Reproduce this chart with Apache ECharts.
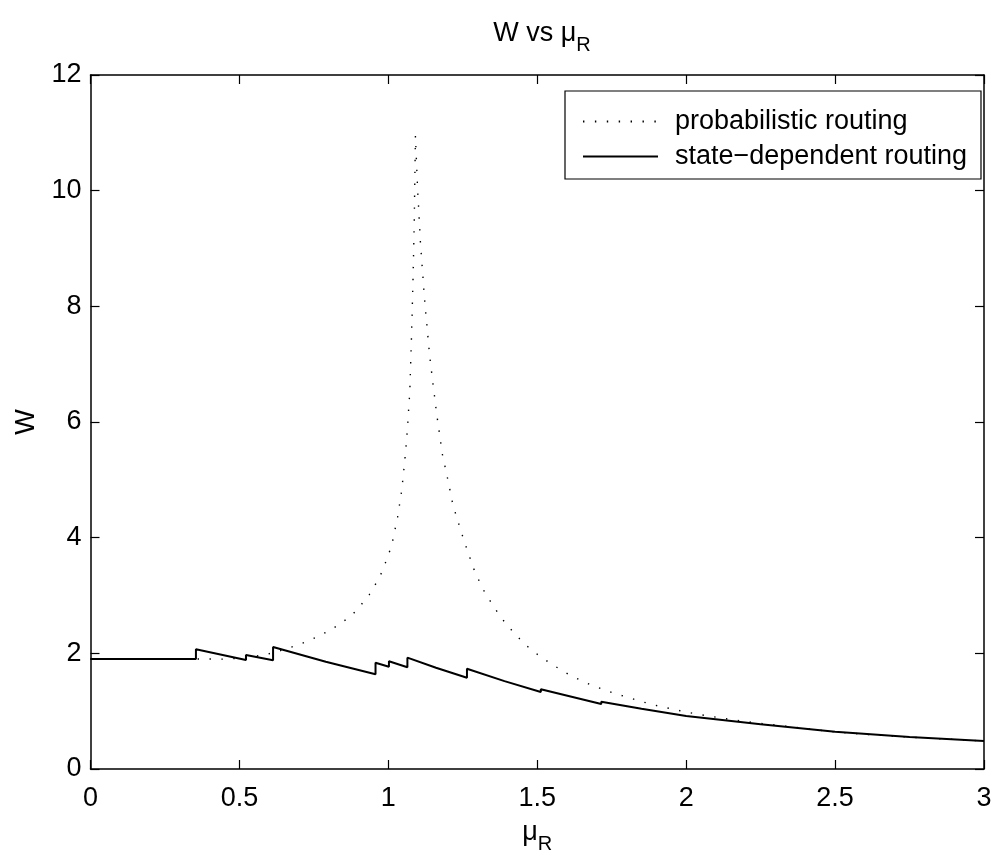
<!DOCTYPE html>
<html>
<head>
<meta charset="utf-8">
<script src="https://cdn.jsdelivr.net/npm/echarts@6/dist/echarts.min.js"></script>
<style>html,body{margin:0;padding:0;background:#fff}#c{width:996px;height:865px}</style>
</head>
<body>
<div id="c"></div>
<script>
// Probabilistic routing (dotted)
var probX = [0, 0.354, 0.45, 0.52, 0.593, 0.64, 0.686, 0.722, 0.758, 0.793, 0.827, 0.862, 0.893, 0.936, 0.958, 0.979, 0.995, 1.011, 1.031, 1.045, 1.055, 1.063, 1.072, 1.078, 1.083, 1.087, 1.091, 1.098, 1.108, 1.122, 1.139, 1.162, 1.182, 1.202, 1.216, 1.229, 1.256, 1.287, 1.305, 1.326, 1.349, 1.374, 1.40, 1.43, 1.46, 1.493, 1.539, 1.573, 1.607, 1.641, 1.678, 1.715, 1.752, 1.789, 1.842, 1.879, 1.917, 1.955, 1.994, 2.07, 2.144, 2.22, 2.299, 2.378, 2.48, 2.6, 2.75, 3.0];
var probY = [1.902, 1.902, 1.90, 1.92, 1.983, 2.05, 2.127, 2.196, 2.277, 2.369, 2.473, 2.599, 2.738, 3.015, 3.205, 3.41, 3.63, 3.86, 4.35, 4.82, 5.32, 5.80, 6.52, 7.51, 8.49, 9.46, 10.95, 10.06, 9.08, 8.10, 7.13, 6.15, 5.43, 4.95, 4.59, 4.36, 3.92, 3.46, 3.25, 3.03, 2.85, 2.65, 2.48, 2.31, 2.15, 2.01, 1.845, 1.735, 1.63, 1.545, 1.458, 1.388, 1.32, 1.262, 1.18, 1.124, 1.077, 1.037, 0.99, 0.92, 0.86, 0.807, 0.76, 0.714, 0.651, 0.60, 0.55, 0.484];
// State-dependent routing (solid)
var stateX = [0, 0.354, 0.354, 0.522, 0.522, 0.613, 0.613, 0.79, 0.957, 0.957, 1.002, 1.002, 1.064, 1.064, 1.16, 1.264, 1.264, 1.39, 1.512, 1.512, 1.715, 1.715, 1.85, 2.0, 2.25, 2.5, 2.75, 3.0];
var stateY = [1.902, 1.902, 2.07, 1.885, 1.971, 1.88, 2.11, 1.855, 1.638, 1.838, 1.769, 1.862, 1.759, 1.925, 1.75, 1.579, 1.734, 1.52, 1.331, 1.378, 1.124, 1.164, 1.04, 0.916, 0.775, 0.645, 0.553, 0.484];
var seriesNames = ['probabilistic routing', 'state\u2212dependent routing'];
var xTicks = [0, 0.5, 1, 1.5, 2, 2.5, 3];
var yTicks = [0, 2, 4, 6, 8, 10, 12];

function pairs(xs, ys) { return xs.map(function (x, i) { return [x, ys[i]]; }); }

var FONT = 'Liberation Sans';
var FS = 27;
var rich = {
  sub: { fontSize: 20, fontFamily: FONT, color: '#000', padding: [22, 0, 0, 0] }
};
var chart = echarts.init(document.getElementById('c'), null, { renderer: 'canvas' });
var tickStyle = { show: true, inside: true, length: 9, lineStyle: { color: '#000', width: 1.2 } };
var lineStyleAxis = { show: true, onZero: false, lineStyle: { color: '#000', width: 1.5 } };
chart.setOption({
  animation: false,
  backgroundColor: '#fff',
  title: {
    text: 'W vs \u03bc{sub|R}',
    left: 537, top: 8, textAlign: 'center',
    textStyle: { fontSize: FS, fontWeight: 'normal', color: '#000', fontFamily: FONT, rich: rich }
  },
  grid: { left: 90.5, right: 12, top: 75, bottom: 96 },
  legend: {
    left: 565, top: 91, orient: 'vertical',
    itemWidth: 75, itemHeight: 14, itemGap: 8,
    padding: [17, 14, 9, 17],
    borderColor: '#000', borderWidth: 1.2, backgroundColor: '#fff',
    itemStyle: { opacity: 0, borderWidth: 0 },
    textStyle: { fontSize: FS, color: '#000', fontFamily: FONT, padding: [0, 0, 0, 12] },
    data: seriesNames
  },
  xAxis: [{
    type: 'value', min: 0, max: 3, interval: 0.5,
    name: '\u03bc{sub|R}', nameLocation: 'middle', nameGap: 43,
    nameTextStyle: { fontSize: FS, color: '#000', fontFamily: FONT, rich: rich },
    axisLine: lineStyleAxis, axisTick: tickStyle, splitLine: { show: false },
    axisLabel: { fontSize: FS, color: '#000', fontFamily: FONT, margin: 16,
      formatter: function (v) { return xTicks.indexOf(v) >= 0 ? String(v) : ''; } }
  }, {
    type: 'value', min: 0, max: 3, interval: 0.5, position: 'top',
    axisLine: lineStyleAxis, axisTick: tickStyle, axisLabel: { show: false }, splitLine: { show: false }
  }],
  yAxis: [{
    type: 'value', min: 0, max: 12, interval: 2,
    name: 'W', nameLocation: 'middle', nameGap: 50, nameRotate: 90,
    nameTextStyle: { fontSize: FS, color: '#000', fontFamily: FONT },
    axisLine: lineStyleAxis, axisTick: tickStyle, splitLine: { show: false },
    axisLabel: { fontSize: FS, color: '#000', fontFamily: FONT, margin: 9,
      formatter: function (v) { return yTicks.indexOf(v) >= 0 ? String(v) : ''; } }
  }, {
    type: 'value', min: 0, max: 12, interval: 2, position: 'right',
    axisLine: lineStyleAxis, axisTick: tickStyle, axisLabel: { show: false }, splitLine: { show: false }
  }],
  series: [{
    name: seriesNames[0], type: 'line', symbol: 'none', showSymbol: false,
    data: pairs(probX, probY),
    lineStyle: { color: '#000', width: 1.4, type: [1.4, 10.5] },
    itemStyle: { color: '#000' }, z: 2
  }, {
    name: seriesNames[1], type: 'line', symbol: 'none', showSymbol: false,
    data: pairs(stateX, stateY),
    lineStyle: { color: '#000', width: 2, type: 'solid' },
    itemStyle: { color: '#000' }, z: 3
  }]
});
</script>
</body>
</html>
